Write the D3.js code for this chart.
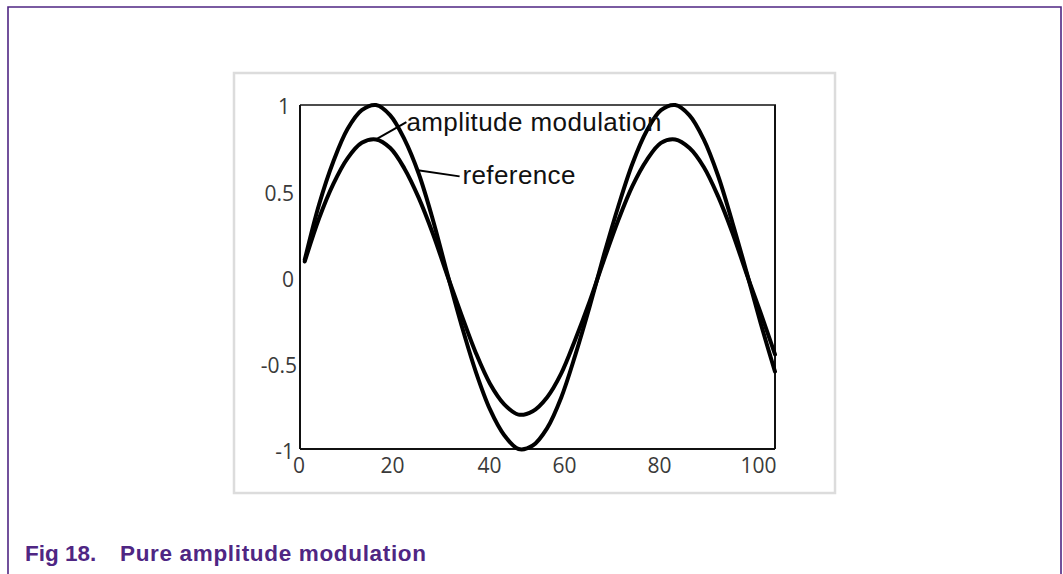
<!DOCTYPE html>
<html>
  <head>
    <style>
      html, body {
        padding: 0;
        margin: 0;
        overflow: hidden;
        background: #ffffff;
      }
      .tick-label {
        font-family: "Open Sans", sans-serif;
        font-weight: 400;
        font-size: 21px;
        fill: #3a3a3a;
      }
      .note {
        font-family: "Liberation Sans", Arial, sans-serif;
        font-size: 26px;
        fill: #111111;
      }
      .caption {
        font-family: "Liberation Sans", Arial, sans-serif;
        font-weight: bold;
        font-size: 22.5px;
        fill: #4f2683;
      }
    </style>
  </head>
  <body>
    <div id="chart"></div>
    <script src="https://cdnjs.cloudflare.com/ajax/libs/d3/7.8.5/d3.min.js"></script>
    <script>
      // sample positions along the x axis
      const xs = [1, 4, 7, 10, 13, 16, 19, 22, 25, 28, 31, 34, 37, 40, 43, 46, 49,
                  52, 55, 58, 61, 64, 67, 70, 73, 76, 79, 82, 85, 88, 91, 94, 97, 100]

      // outer curve (full swing)
      const outerVals = [0.10, 0.42, 0.67, 0.86, 0.97, 1.00, 0.94, 0.80, 0.60, 0.33, 0.02, -0.28,
                         -0.55, -0.77, -0.92, -1.00, -0.98, -0.88, -0.70, -0.45, -0.17, 0.13, 0.41,
                         0.66, 0.85, 0.97, 1.00, 0.94, 0.80, 0.59, 0.32, 0.03, -0.27, -0.55]

      // inner curve (reduced swing)
      const innerVals = [0.09, 0.34, 0.54, 0.69, 0.78, 0.80, 0.75, 0.63, 0.46, 0.25, 0.01, -0.22,
                         -0.44, -0.62, -0.74, -0.80, -0.78, -0.70, -0.56, -0.36, -0.14, 0.10, 0.33,
                         0.53, 0.68, 0.78, 0.80, 0.75, 0.64, 0.47, 0.26, 0.02, -0.21, -0.45]

      const xTicks = [0, 20, 40, 60, 80, 100]
      const yTicks = [1, 0.5, 0, -0.5, -1]
      const yTickLabels = ['1', '0.5', '0', '-0.5', '-1']

      // callouts: label anchor, leader start, leader end (data units)
      const notes = [
        { text: 'amplitude modulation', at: [22.4, 0.85], from: [22.4, 0.9], to: [16, 0.8] },
        { text: 'reference', at: [34.2, 0.54], from: [33.6, 0.585], to: [24.8, 0.62] }
      ]

      const W = 1063, H = 574
      const plot = { left: 300, right: 775, top: 105, bottom: 449 }
      const xLabelShift = [-1.5, -3, -1, -21, -21, -17]

      const svg = d3.select('#chart').append('svg')
        .attr('width', W)
        .attr('height', H)

      // page frame
      svg.append('path')
        .attr('d', `M8,${H} L8,7 L1061,7 L1061,${H}`)
        .attr('fill', 'none')
        .attr('stroke', '#4f2683')
        .attr('stroke-width', 1.6)

      // grey figure box
      svg.append('rect')
        .attr('x', 234).attr('y', 73)
        .attr('width', 601).attr('height', 420)
        .attr('fill', 'none')
        .attr('stroke', '#dcdcdc')
        .attr('stroke-width', 2.5)

      let x = d3.scaleLinear().domain([0, 100]).range([plot.left, plot.right])
      let y = d3.scaleLinear().domain([-1, 1]).range([plot.bottom, plot.top])

      // plot box
      svg.append('line')
        .attr('x1', plot.left).attr('x2', plot.right + 1)
        .attr('y1', plot.top).attr('y2', plot.top)
        .attr('stroke', '#111').attr('stroke-width', 1.5)
      svg.append('line')
        .attr('x1', plot.right).attr('x2', plot.right)
        .attr('y1', plot.top).attr('y2', plot.bottom)
        .attr('stroke', '#111').attr('stroke-width', 2)

      let xAxis = svg.append('g')
        .attr('transform', `translate(0,${plot.bottom})`)
        .call(d3.axisBottom(x).tickValues(xTicks).tickSize(0).tickPadding(0).tickFormat(d3.format('d')))
      xAxis.select('.domain').attr('stroke', '#111').attr('stroke-width', 2)
        .attr('d', `M${plot.left},0H${plot.right}`)
      xAxis.selectAll('.tick text')
        .attr('class', 'tick-label')
        .attr('y', 24)
        .attr('dy', 0)
        .attr('dx', (d, i) => xLabelShift[i])

      let yAxis = svg.append('g')
        .attr('transform', `translate(${plot.left},0)`)
        .call(d3.axisLeft(y).tickValues(yTicks).tickSize(0).tickPadding(6)
          .tickFormat((d, i) => yTickLabels[i]))
      yAxis.select('.domain').attr('stroke', '#111').attr('stroke-width', 2)
        .attr('d', `M0,${plot.top}V${plot.bottom}`)
      yAxis.selectAll('.tick text')
        .attr('class', 'tick-label')
        .attr('dy', (d) => d === 1 ? 8 : 9)
        .attr('dx', (d) => d === 1 ? -4 : (d === -0.5 ? 3 : 0))
        .attr('text-anchor', 'end')

      let line = d3.line()
        .x((d) => x(d[0]))
        .y((d) => y(d[1]))
        .curve(d3.curveCatmullRom)

      const series = [
        xs.map((v, i) => [v, outerVals[i]]),
        xs.map((v, i) => [v, innerVals[i]])
      ]

      svg.selectAll('.curve')
        .data(series)
        .enter().append('path')
        .attr('class', 'curve')
        .attr('d', line)
        .attr('fill', 'none')
        .attr('stroke', '#000')
        .attr('stroke-width', 4)
        .attr('stroke-linejoin', 'round')
        .attr('stroke-linecap', 'round')

      svg.selectAll('.leader')
        .data(notes)
        .enter().append('line')
        .attr('class', 'leader')
        .attr('x1', (d) => x(d.from[0])).attr('y1', (d) => y(d.from[1]))
        .attr('x2', (d) => x(d.to[0])).attr('y2', (d) => y(d.to[1]))
        .attr('stroke', '#000')
        .attr('stroke-width', 2)

      svg.selectAll('.note')
        .data(notes)
        .enter().append('text')
        .attr('class', 'note')
        .attr('x', (d) => x(d.at[0]))
        .attr('y', (d) => y(d.at[1]))
        .attr('textLength', (d, i) => i === 0 ? 255 : 113)
        .text((d) => d.text)

      let cap = svg.append('text')
        .attr('class', 'caption')
        .attr('y', 561)
      cap.append('tspan').attr('x', 25).text('Fig 18.')
      cap.append('tspan').attr('x', 120).attr('textLength', 306).text('Pure amplitude modulation')
    </script>
  </body>
</html>
